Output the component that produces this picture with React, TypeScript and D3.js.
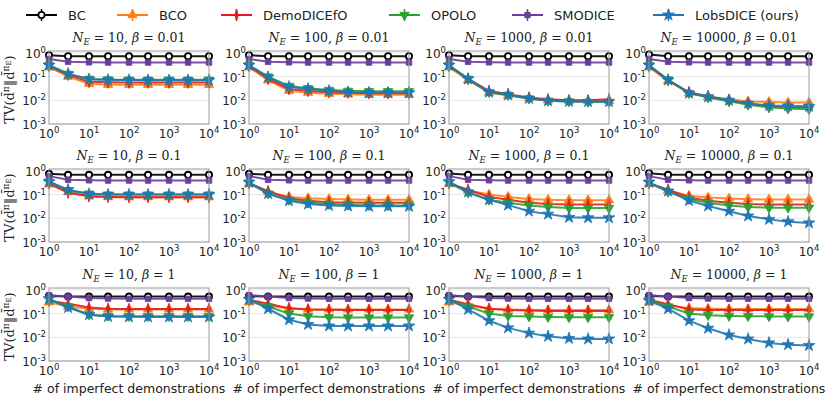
import React from 'react'
import * as d3 from 'd3'

// x positions: number of imperfect demonstrations
const XS = [1, 3, 10, 30, 100, 300, 1000, 3000, 10000]
const NE_LIST = ['10', '100', '1000', '10000']
const BETA_LIST = ['0.01', '0.1', '1']
const METHODS = ['BC', 'BCO', 'DemoDICEfO', 'OPOLO', 'SMODICE', 'LobsDICE (ours)']

// one row of 9 values per panel, panels ordered beta-row by N_E-column
const BC_VALUES = [
  [0.8, 0.72, 0.72, 0.72, 0.72, 0.72, 0.72, 0.72, 0.72],
  [0.8, 0.72, 0.72, 0.72, 0.72, 0.72, 0.72, 0.72, 0.72],
  [0.8, 0.72, 0.72, 0.72, 0.72, 0.72, 0.72, 0.72, 0.72],
  [0.85, 0.72, 0.72, 0.72, 0.72, 0.72, 0.72, 0.72, 0.72],
  [0.75, 0.68, 0.68, 0.68, 0.68, 0.68, 0.68, 0.68, 0.68],
  [0.75, 0.68, 0.68, 0.68, 0.68, 0.68, 0.68, 0.68, 0.68],
  [0.78, 0.68, 0.68, 0.68, 0.68, 0.68, 0.68, 0.68, 0.68],
  [0.8, 0.68, 0.68, 0.68, 0.68, 0.68, 0.68, 0.68, 0.68],
  [0.55, 0.52, 0.52, 0.52, 0.52, 0.52, 0.52, 0.52, 0.52],
  [0.55, 0.52, 0.52, 0.52, 0.52, 0.52, 0.52, 0.52, 0.52],
  [0.55, 0.52, 0.52, 0.52, 0.52, 0.52, 0.52, 0.52, 0.52],
  [0.55, 0.52, 0.52, 0.52, 0.52, 0.52, 0.52, 0.52, 0.52],
]
const BCO_VALUES = [
  [0.25, 0.1, 0.05, 0.045, 0.045, 0.045, 0.045, 0.045, 0.045],
  [0.25, 0.07, 0.025, 0.021, 0.019, 0.018, 0.017, 0.017, 0.017],
  [0.25, 0.07, 0.021, 0.016, 0.012, 0.01, 0.0095, 0.0095, 0.0095],
  [0.25, 0.065, 0.02, 0.014, 0.011, 0.009, 0.0085, 0.008, 0.008],
  [0.27, 0.13, 0.085, 0.08, 0.078, 0.078, 0.078, 0.078, 0.078],
  [0.28, 0.13, 0.08, 0.07, 0.065, 0.062, 0.06, 0.06, 0.06],
  [0.28, 0.15, 0.1, 0.08, 0.065, 0.06, 0.058, 0.058, 0.058],
  [0.28, 0.15, 0.09, 0.075, 0.068, 0.064, 0.062, 0.062, 0.062],
  [0.3, 0.2, 0.16, 0.15, 0.15, 0.15, 0.15, 0.15, 0.15],
  [0.3, 0.22, 0.16, 0.15, 0.15, 0.15, 0.15, 0.15, 0.15],
  [0.3, 0.22, 0.16, 0.15, 0.14, 0.14, 0.14, 0.14, 0.14],
  [0.3, 0.22, 0.17, 0.16, 0.155, 0.155, 0.155, 0.155, 0.155],
]
const DEMO_VALUES = [
  [0.28, 0.12, 0.06, 0.057, 0.056, 0.056, 0.056, 0.056, 0.056],
  [0.28, 0.08, 0.03, 0.025, 0.022, 0.021, 0.02, 0.02, 0.02],
  [0.28, 0.08, 0.025, 0.018, 0.013, 0.011, 0.01, 0.01, 0.011],
  [0.28, 0.07, 0.022, 0.015, 0.01, 0.007, 0.0055, 0.005, 0.005],
  [0.3, 0.12, 0.085, 0.08, 0.078, 0.078, 0.078, 0.078, 0.078],
  [0.3, 0.14, 0.07, 0.055, 0.048, 0.046, 0.045, 0.045, 0.045],
  [0.3, 0.16, 0.08, 0.06, 0.045, 0.04, 0.038, 0.038, 0.038],
  [0.3, 0.16, 0.075, 0.055, 0.045, 0.04, 0.038, 0.038, 0.038],
  [0.35, 0.26, 0.18, 0.16, 0.155, 0.155, 0.155, 0.155, 0.155],
  [0.38, 0.26, 0.17, 0.15, 0.145, 0.14, 0.14, 0.14, 0.14],
  [0.38, 0.25, 0.16, 0.14, 0.135, 0.13, 0.13, 0.13, 0.13],
  [0.38, 0.25, 0.15, 0.14, 0.14, 0.14, 0.14, 0.14, 0.14],
]
const OPOLO_VALUES = [
  [0.3, 0.13, 0.08, 0.075, 0.074, 0.074, 0.074, 0.074, 0.074],
  [0.3, 0.1, 0.04, 0.032, 0.027, 0.025, 0.024, 0.024, 0.024],
  [0.3, 0.08, 0.022, 0.017, 0.012, 0.0095, 0.009, 0.0085, 0.0085],
  [0.3, 0.075, 0.02, 0.013, 0.009, 0.0065, 0.005, 0.0045, 0.0042],
  [0.35, 0.15, 0.11, 0.1, 0.1, 0.1, 0.1, 0.1, 0.1],
  [0.32, 0.11, 0.06, 0.045, 0.04, 0.037, 0.035, 0.035, 0.035],
  [0.32, 0.12, 0.06, 0.045, 0.035, 0.03, 0.027, 0.027, 0.027],
  [0.32, 0.13, 0.065, 0.045, 0.035, 0.03, 0.028, 0.028, 0.028],
  [0.4, 0.2, 0.09, 0.08, 0.078, 0.078, 0.078, 0.078, 0.078],
  [0.38, 0.2, 0.1, 0.078, 0.07, 0.068, 0.068, 0.068, 0.068],
  [0.38, 0.2, 0.1, 0.08, 0.075, 0.072, 0.07, 0.07, 0.07],
  [0.38, 0.2, 0.1, 0.085, 0.08, 0.078, 0.076, 0.075, 0.075],
]
const SMODICE_VALUES = [
  [0.55, 0.42, 0.4, 0.39, 0.39, 0.39, 0.39, 0.39, 0.39],
  [0.55, 0.42, 0.4, 0.39, 0.39, 0.39, 0.39, 0.39, 0.39],
  [0.55, 0.42, 0.4, 0.39, 0.39, 0.39, 0.39, 0.39, 0.39],
  [0.55, 0.42, 0.4, 0.39, 0.39, 0.39, 0.39, 0.39, 0.39],
  [0.6, 0.42, 0.4, 0.39, 0.39, 0.39, 0.39, 0.39, 0.39],
  [0.6, 0.42, 0.4, 0.39, 0.39, 0.39, 0.39, 0.39, 0.39],
  [0.6, 0.42, 0.4, 0.39, 0.39, 0.39, 0.39, 0.39, 0.39],
  [0.6, 0.42, 0.4, 0.39, 0.39, 0.39, 0.39, 0.39, 0.39],
  [0.6, 0.52, 0.45, 0.43, 0.42, 0.42, 0.42, 0.42, 0.42],
  [0.6, 0.52, 0.45, 0.43, 0.42, 0.42, 0.42, 0.42, 0.42],
  [0.6, 0.52, 0.45, 0.43, 0.42, 0.42, 0.42, 0.42, 0.42],
  [0.6, 0.52, 0.45, 0.43, 0.42, 0.42, 0.42, 0.42, 0.42],
]
const LOBS_VALUES = [
  [0.3, 0.13, 0.078, 0.072, 0.071, 0.07, 0.07, 0.07, 0.07],
  [0.3, 0.095, 0.037, 0.03, 0.025, 0.022, 0.021, 0.021, 0.021],
  [0.3, 0.08, 0.022, 0.017, 0.012, 0.0095, 0.009, 0.0088, 0.0088],
  [0.3, 0.072, 0.02, 0.014, 0.01, 0.0075, 0.006, 0.0058, 0.0056],
  [0.35, 0.16, 0.105, 0.1, 0.1, 0.1, 0.1, 0.1, 0.1],
  [0.33, 0.11, 0.055, 0.04, 0.035, 0.033, 0.032, 0.032, 0.032],
  [0.35, 0.13, 0.06, 0.036, 0.02, 0.015, 0.011, 0.0105, 0.0105],
  [0.33, 0.14, 0.056, 0.033, 0.02, 0.0125, 0.009, 0.0072, 0.0064],
  [0.42, 0.18, 0.09, 0.075, 0.073, 0.072, 0.072, 0.072, 0.072],
  [0.4, 0.16, 0.055, 0.035, 0.03, 0.03, 0.03, 0.03, 0.03],
  [0.4, 0.15, 0.05, 0.025, 0.015, 0.011, 0.009, 0.0085, 0.0085],
  [0.35, 0.16, 0.05, 0.024, 0.0125, 0.0085, 0.0058, 0.0049, 0.0045],
]

const X_TICKS = [1, 10, 100, 1000, 10000]
const Y_TICKS = [1, 0.1, 0.01, 0.001]

const SERIES = [BC_VALUES, BCO_VALUES, DEMO_VALUES, OPOLO_VALUES, SMODICE_VALUES, LOBS_VALUES]
const COLORS = ['#000000', '#ff7f0e', '#e41a1c', '#2ca02c', '#6a3d9a', '#1f77b4']

const colLeft = [49, 249, 449, 649]
const rowTop = [51, 169, 288]
const pw = 160
const ph = 73

const sans = 'DejaVu Sans, sans-serif'
const serif = 'DejaVu Serif, serif'

function markerPath(k: number) {
  const types = [d3.symbolCircle, d3.symbolTriangle, d3.symbolDiamond, d3.symbolTriangle, d3.symbolSquare, d3.symbolStar]
  const sizes = [30, 38, 28, 38, 30, 44]
  return d3.symbol(types[k], sizes[k])()
}

function markerTransform(k: number, x: number, y: number) {
  if (k === 2) return `translate(${x},${y}) scale(0.6,1.2)`
  if (k === 3) return `translate(${x},${y}) rotate(180)`
  return `translate(${x},${y})`
}

function Marker({ k, x, y }: { k: number; x: number; y: number }) {
  const c = COLORS[k]
  return (
    <path
      d={markerPath(k) || ''}
      transform={markerTransform(k, x, y)}
      fill={k === 0 ? '#fff' : c}
      stroke={c}
      strokeWidth={k === 0 ? 1.8 : 0.8}
    />
  )
}

function Pow10({ exp, x, y, anchor }: { exp: number; x: number; y: number; anchor: string }) {
  return (
    <text x={x} y={y} textAnchor={anchor} fontFamily={sans} fontSize={12} fill="#222">
      10<tspan dy={-5} fontSize={8.5}>{String(exp)}</tspan>
    </text>
  )
}

function Panel({ r, c }: { r: number; c: number }) {
  const p = r * 4 + c
  const left = colLeft[c]
  const top = rowTop[r]
  const x = d3.scaleLog().domain([1, 10000]).range([left, left + pw])
  const y = d3.scaleLog().domain([0.001, 1.2]).range([top + ph, top])
  const ln = d3.line<number>().x((d, i) => x(XS[i])).y(d => y(d))

  return (
    <g>
      {Y_TICKS.map(t => (
        <line key={'g' + t} x1={left} x2={left + pw} y1={y(t)} y2={y(t)} stroke="#e6e6e6" strokeWidth={1} />
      ))}
      {SERIES.map((s, k) => (
        <g key={k}>
          <path d={ln(s[p]) || ''} fill="none" stroke={COLORS[k]} strokeWidth={2} strokeOpacity={0.9} />
          {s[p].map((v, i) => <Marker key={i} k={k} x={x(XS[i])} y={y(v)} />)}
        </g>
      ))}
      <rect x={left} y={top} width={pw} height={ph} fill="none" stroke="#999" strokeWidth={1} />
      {X_TICKS.map(t => (
        <Pow10 key={'x' + t} exp={Math.round(Math.log10(t))} x={x(t)} y={top + ph + 14} anchor="middle" />
      ))}
      {Y_TICKS.map(t => (
        <Pow10 key={'y' + t} exp={Math.round(Math.log10(t))} x={left - 3} y={y(t) + 5} anchor="end" />
      ))}
      <text x={left + pw / 2} y={top - 9} textAnchor="middle" fontFamily={serif} fontSize={12.5} fill="#222">
        <tspan fontStyle="italic">N</tspan>
        <tspan fontStyle="italic" fontSize={8.5} dy={3}>E</tspan>
        <tspan dy={-3}>{' = ' + NE_LIST[c] + ', '}</tspan>
        <tspan fontStyle="italic">β</tspan>
        <tspan>{' = ' + BETA_LIST[r]}</tspan>
      </text>
      {c === 0 && (
        <text
          transform={`translate(${14},${top + ph / 2 + 2}) rotate(-90)`}
          textAnchor="middle"
          fontFamily={serif}
          fontSize={13}
          fill="#222"
        >
          TV(d̄<tspan dy={-5} fontSize={9}>π</tspan>
          <tspan dy={5}>‖d̄</tspan>
          <tspan dy={-5} fontSize={9}>π</tspan>
          <tspan dy={2} fontSize={7}>E</tspan>
          <tspan dy={3}>)</tspan>
        </text>
      )}
      {r === 2 && (
        <text x={left + pw / 2} y={top + ph + 32} textAnchor="middle" fontFamily={sans} fontSize={12.5} fill="#222">
          # of imperfect demonstrations
        </text>
      )}
    </g>
  )
}

function Legend() {
  const lineX = [26, 117, 221, 389, 512, 653]
  return (
    <g>
      {METHODS.map((m, k) => (
        <g key={m}>
          <line x1={lineX[k]} x2={lineX[k] + 31} y1={15} y2={15} stroke={COLORS[k]} strokeWidth={2} />
          <line x1={lineX[k] + 15.5} x2={lineX[k] + 15.5} y1={9} y2={21} stroke={COLORS[k]} strokeWidth={1.5} />
          <Marker k={k} x={lineX[k] + 15.5} y={15} />
          <text x={lineX[k] + 42} y={20} fontFamily={sans} fontSize={13} fill="#222">{m}</text>
        </g>
      ))}
    </g>
  )
}

export default function App() {
  return (
    <svg width={830} height={397} style={{ position: 'absolute', left: 0, top: 0, background: '#fff' }}>
      <Legend />
      {BETA_LIST.map((b, r) => NE_LIST.map((n, c) => <Panel key={b + n} r={r} c={c} />))}
    </svg>
  )
}
